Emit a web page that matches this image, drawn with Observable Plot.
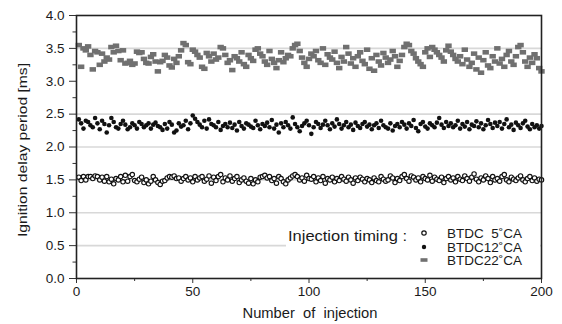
<!DOCTYPE html>
<html>
<head>
<meta charset="utf-8">
<script src="https://cdn.jsdelivr.net/npm/d3@7"></script>
<script src="https://cdn.jsdelivr.net/npm/@observablehq/plot@0.6"></script>
<style>
  html, body { margin: 0; padding: 0; background: #fff; }
  #chart { width: 562px; height: 324px; }
  svg text { font-family: "Liberation Sans", Arial, sans-serif; }
</style>
</head>
<body>
<div id="chart"></div>
<script>
// ---- data ----
const injection = d3.range(1, 201);

const btdc5 = [
  1.54,1.49,1.55,1.50,1.55,1.55,1.52,1.56,1.55,1.50,1.54,1.48,1.55,1.47,1.51,1.44,1.52,1.50,1.55,1.47,
  1.57,1.48,1.55,1.58,1.49,1.47,1.51,1.54,1.46,1.50,1.44,1.48,1.55,1.50,1.46,1.43,1.48,1.49,1.53,1.55,
  1.54,1.56,1.52,1.53,1.48,1.52,1.55,1.50,1.53,1.47,1.55,1.50,1.53,1.55,1.48,1.51,1.56,1.45,1.54,1.49,
  1.55,1.58,1.47,1.53,1.50,1.56,1.48,1.52,1.55,1.46,1.50,1.53,1.48,1.45,1.52,1.44,1.50,1.47,1.54,1.55,
  1.57,1.53,1.55,1.49,1.52,1.45,1.55,1.52,1.47,1.44,1.50,1.53,1.56,1.58,1.55,1.50,1.53,1.48,1.57,1.52,
  1.51,1.55,1.47,1.53,1.49,1.55,1.45,1.52,1.50,1.54,1.47,1.52,1.49,1.55,1.51,1.48,1.54,1.50,1.45,1.53,
  1.49,1.54,1.51,1.47,1.52,1.50,1.46,1.53,1.49,1.47,1.55,1.51,1.48,1.50,1.56,1.53,1.46,1.52,1.49,1.55,
  1.58,1.52,1.48,1.56,1.54,1.50,1.53,1.47,1.55,1.52,1.50,1.57,1.48,1.54,1.51,1.49,1.54,1.46,1.52,1.55,
  1.50,1.53,1.47,1.55,1.51,1.49,1.56,1.52,1.48,1.54,1.59,1.51,1.47,1.53,1.50,1.56,1.52,1.46,1.55,1.50,
  1.52,1.48,1.55,1.58,1.50,1.47,1.54,1.51,1.49,1.53,1.56,1.50,1.47,1.52,1.55,1.49,1.53,1.48,1.51,1.50
];

const btdc12 = [
  2.42,2.36,2.28,2.40,2.38,2.33,2.30,2.44,2.36,2.27,2.40,2.35,2.22,2.33,2.44,2.38,2.30,2.28,2.35,2.40,
  2.34,2.27,2.30,2.36,2.33,2.28,2.38,2.35,2.30,2.33,2.36,2.28,2.34,2.37,2.32,2.30,2.26,2.35,2.28,2.38,
  2.34,2.22,2.25,2.36,2.31,2.33,2.40,2.27,2.36,2.48,2.43,2.38,2.34,2.30,2.40,2.28,2.42,2.35,2.33,2.30,
  2.38,2.26,2.32,2.35,2.30,2.37,2.29,2.34,2.25,2.38,2.32,2.28,2.36,2.34,2.31,2.29,2.40,2.33,2.27,2.35,
  2.32,2.37,2.30,2.41,2.28,2.34,2.22,2.36,2.30,2.38,2.33,2.28,2.45,2.35,2.30,2.24,2.32,2.36,2.40,2.33,
  2.20,2.30,2.38,2.35,2.29,2.34,2.40,2.33,2.27,2.36,2.31,2.42,2.35,2.28,2.33,2.38,2.30,2.34,2.26,2.37,
  2.32,2.29,2.35,2.38,2.31,2.34,2.27,2.33,2.36,2.29,2.40,2.33,2.30,2.28,2.36,2.25,2.32,2.35,2.30,2.38,
  2.34,2.28,2.36,2.32,2.41,2.29,2.24,2.35,2.38,2.31,2.28,2.36,2.33,2.30,2.37,2.44,2.34,2.29,2.38,2.32,
  2.36,2.30,2.33,2.40,2.28,2.35,2.31,2.38,2.27,2.34,2.32,2.39,2.30,2.36,2.27,2.33,2.41,2.35,2.29,2.37,
  2.32,2.38,2.28,2.35,2.42,2.30,2.34,2.26,2.37,2.33,2.29,2.36,2.40,2.31,2.27,2.35,2.30,2.33,2.28,2.32
];

const btdc22 = [
  3.55,3.22,3.50,3.47,3.53,3.40,3.18,3.46,3.44,3.25,3.42,3.30,3.36,3.33,3.52,3.44,3.54,3.46,3.32,3.47,
  3.27,3.28,3.31,3.25,3.27,3.45,3.43,3.44,3.34,3.28,3.27,3.37,3.41,3.30,3.15,3.29,3.31,3.40,3.36,3.24,
  3.21,3.34,3.28,3.38,3.47,3.58,3.55,3.29,3.26,3.48,3.45,3.40,3.36,3.22,3.19,3.43,3.38,3.30,3.42,3.33,
  3.36,3.52,3.50,3.40,3.28,3.32,3.17,3.38,3.35,3.30,3.44,3.26,3.22,3.40,3.35,3.31,3.48,3.50,3.42,3.38,
  3.30,3.25,3.46,3.34,3.28,3.20,3.32,3.44,3.29,3.35,3.40,3.38,3.50,3.55,3.57,3.46,3.36,3.28,3.22,3.34,
  3.42,3.38,3.46,3.32,3.28,3.50,3.25,3.41,3.36,3.33,3.45,3.28,3.20,3.37,3.30,3.52,3.42,3.27,3.35,3.22,
  3.38,3.44,3.31,3.26,3.48,3.19,3.35,3.16,3.40,3.30,3.24,3.43,3.36,3.28,3.33,3.46,3.38,3.22,3.31,3.40,
  3.52,3.57,3.55,3.46,3.42,3.35,3.30,3.26,3.22,3.44,3.50,3.37,3.52,3.48,3.44,3.40,3.36,3.30,3.47,3.54,
  3.45,3.40,3.34,3.30,3.38,3.26,3.48,3.33,3.22,3.28,3.42,3.18,3.36,3.13,3.32,3.44,3.24,3.20,3.38,3.30,
  3.50,3.27,3.34,3.22,3.40,3.46,3.30,3.25,3.38,3.52,3.55,3.44,3.30,3.22,3.36,3.28,3.41,3.35,3.20,3.15
];

const xTicks = [0, 50, 100, 150, 200];
const xMinorTicks = [25, 75, 125, 175];
const yTicks = [0, 0.5, 1.0, 1.5, 2.0, 2.5, 3.0, 3.5, 4.0];
const yMinorTicks = [0.25, 0.75, 1.25, 1.75, 2.25, 2.75, 3.25, 3.75];
const gridValues = [0.5, 1.0, 1.5, 2.0, 2.5, 3.5];
const seriesNames = ["BTDC\u00a0\u00a05\u02daCA", "BTDC12\u02daCA", "BTDC22\u02daCA"];
const xTitle = "Number\u00a0\u00a0of\u00a0\u00a0injection";
const yTitle = "Ignition delay period [ms]";
const legendTitle = "Injection timing :";

// ---- table ----
const rows5 = injection.map((x, i) => ({x, y: btdc5[i]}));
const rows12 = injection.map((x, i) => ({x, y: btdc12[i]}));
const rows22 = injection.map((x, i) => ({x, y: btdc22[i]}));

const pill = {
  draw(ctx) {
    const w = 3.2, h = 2.3;
    ctx.moveTo(-w, -h); ctx.lineTo(w, -h); ctx.lineTo(w, h); ctx.lineTo(-w, h); ctx.closePath();
  }
};

const ML = 76, MR = 21, MT = 15, MB = 46, W = 562, H = 324;

const chart = Plot.plot({
  width: W, height: H,
  marginLeft: ML, marginRight: MR, marginTop: MT, marginBottom: MB,
  style: {fontFamily: "Liberation Sans, Arial, sans-serif", background: "white"},
  x: {domain: [0, 200]},
  y: {domain: [0, 4]},
  marks: [
    Plot.ruleY(gridValues, {stroke: "#d8d8d8", strokeWidth: 1.6}),
    Plot.dot(rows5, {x: "x", y: "y", r: 2.2, stroke: "#111", strokeWidth: 1.15, fill: "white"}),
    Plot.dot(rows12, {x: "x", y: "y", r: 2.3, fill: "#111", stroke: "none"}),
    Plot.dot(rows22, {x: "x", y: "y", symbol: pill, fill: "#707070", stroke: "none"}),
    Plot.axisX({ticks: xTicks, tickSize: 5, tickPadding: 3, tickFormat: d3.format("d"), fontSize: 13.5, label: null, stroke: "#333", color: "#1a1a1a"}),
    Plot.axisX({ticks: xMinorTicks, tickSize: 3, tickFormat: () => "", label: null, stroke: "#333"}),
    Plot.axisY({ticks: yTicks, tickSize: 7, tickPadding: 5, tickFormat: d3.format(".1f"), fontSize: 13.5, label: null, stroke: "#333", color: "#1a1a1a"}),
    Plot.axisY({ticks: yMinorTicks, tickSize: 3.5, tickFormat: () => "", label: null, stroke: "#333"}),
    Plot.frame({stroke: "#222", strokeWidth: 1.6})
  ]
});

document.getElementById("chart").appendChild(chart);

// ---- titles & legend ----
const svg = d3.select(chart);
svg.append("text")
  .attr("x", 310).attr("y", 318)
  .attr("text-anchor", "middle")
  .attr("font-size", 14).attr("fill", "#1a1a1a")
  .attr("textLength", 135).attr("lengthAdjust", "spacingAndGlyphs")
  .text(xTitle);
svg.append("text")
  .attr("transform", "translate(27,150) rotate(-90)")
  .attr("text-anchor", "middle")
  .attr("font-size", 13.5).attr("fill", "#1a1a1a")
  .attr("textLength", 174).attr("lengthAdjust", "spacingAndGlyphs")
  .text(yTitle);

const lg = svg.append("g").attr("text-anchor", "start");
lg.append("rect").attr("x", 286).attr("y", 221).attr("width", 254).attr("height", 55).attr("fill", "white");
lg.append("text").attr("x", 288).attr("y", 240.5).attr("text-anchor", "start").attr("font-size", 14).attr("fill", "#1a1a1a")
  .attr("textLength", 119).attr("lengthAdjust", "spacingAndGlyphs").text(legendTitle);
const ly = [233, 247, 260];
lg.append("circle").attr("cx", 424).attr("cy", ly[0]).attr("r", 2.2).attr("fill", "white").attr("stroke", "#111").attr("stroke-width", 1.2);
lg.append("circle").attr("cx", 424).attr("cy", ly[1]).attr("r", 2.2).attr("fill", "#111");
lg.append("rect").attr("x", 420.5).attr("y", ly[2] - 1.8).attr("width", 7).attr("height", 3.6).attr("fill", "#707070");
seriesNames.forEach((name, i) => {
  lg.append("text").attr("x", 447).attr("y", ly[i] + 4.5).attr("text-anchor", "start").attr("font-size", 12.5).attr("fill", "#1a1a1a")
    .attr("textLength", 75).attr("lengthAdjust", "spacingAndGlyphs").text(name);
});
</script>
</body>
</html>
